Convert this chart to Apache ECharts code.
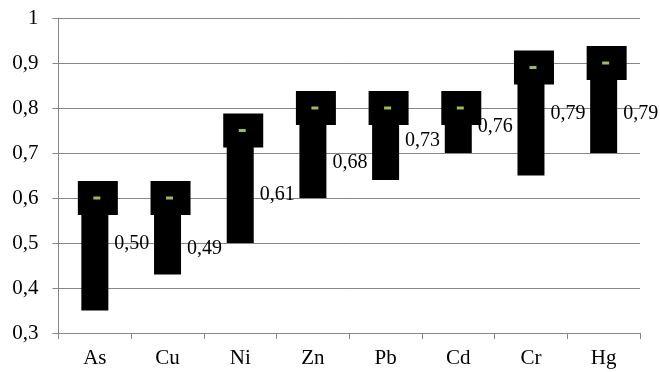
<!DOCTYPE html>
<html>
<head>
<meta charset="utf-8">
<script src="https://cdn.jsdelivr.net/npm/echarts@6/dist/echarts.min.js"></script>
<style>html,body{margin:0;padding:0;background:#fff}#c{width:660px;height:372px}</style>
</head>
<body>
<div id="c"></div>
<script>
var categories = ['As', 'Cu', 'Ni', 'Zn', 'Pb', 'Cd', 'Cr', 'Hg'];
var lowValues = [0.35, 0.43, 0.50, 0.60, 0.64, 0.70, 0.65, 0.70];
var meanValues = [0.60, 0.60, 0.75, 0.80, 0.80, 0.80, 0.89, 0.90];
var labelValues = [0.50, 0.49, 0.61, 0.68, 0.73, 0.76, 0.79, 0.79];
var yTicks = { min: 0.3, max: 1, interval: 0.1 };

var fontFam = '"Liberation Serif", "Times New Roman", serif';
var chart = echarts.init(document.getElementById('c'), null, { renderer: 'canvas' });
var rangeValues = meanValues.map(function (m, i) { return +(m - lowValues[i]).toFixed(3); });

chart.setOption({
  animation: false,
  backgroundColor: '#ffffff',
  grid: { left: 58.5, right: 20, top: 18, bottom: 39, containLabel: false },
  xAxis: {
    type: 'category',
    data: categories,
    boundaryGap: true,
    axisLine: { lineStyle: { color: '#868686', width: 1 } },
    axisTick: { show: true, length: 6, alignWithLabel: false, lineStyle: { color: '#868686' } },
    axisLabel: { color: '#000', fontFamily: fontFam, fontSize: 21, margin: 15 },
    splitLine: { show: false }
  },
  yAxis: {
    type: 'value',
    min: yTicks.min,
    max: yTicks.max,
    interval: yTicks.interval,
    axisLine: { show: true, lineStyle: { color: '#868686', width: 1 } },
    axisTick: { show: true, length: 6, lineStyle: { color: '#868686' } },
    axisLabel: {
      color: '#000', fontFamily: fontFam, fontSize: 21, margin: 20,
      formatter: function (v) { return String(Math.round(v * 10) / 10).replace('.', ','); }
    },
    splitLine: { show: true, lineStyle: { color: '#868686', width: 1 } }
  },
  series: [
    {
      type: 'bar', stack: 'r', data: lowValues, barWidth: 27,
      itemStyle: { color: 'transparent' }, silent: true
    },
    {
      type: 'bar', stack: 'r', data: rangeValues, barWidth: 27,
      itemStyle: { color: '#000' }
    },
    {
      type: 'scatter', data: labelValues, symbolSize: 1,
      itemStyle: { color: 'transparent', opacity: 1 },
      label: {
        show: true, position: 'right', distance: 0, offset: [19, 1],
        color: '#000', fontFamily: fontFam, fontSize: 20,
        formatter: function (p) { return p.value.toFixed(2).replace('.', ','); }
      },
      z: 3
    },
    {
      type: 'scatter', data: meanValues, symbol: 'rect', symbolSize: [40, 34],
      symbolOffset: [3, 0], itemStyle: { color: '#000', opacity: 1 }, z: 4
    },
    {
      type: 'scatter', data: meanValues, symbol: 'rect', symbolSize: [7, 3],
      symbolOffset: [2, 0], itemStyle: { color: '#9bbb59', opacity: 1 }, z: 5
    }
  ]
});
</script>
</body>
</html>
